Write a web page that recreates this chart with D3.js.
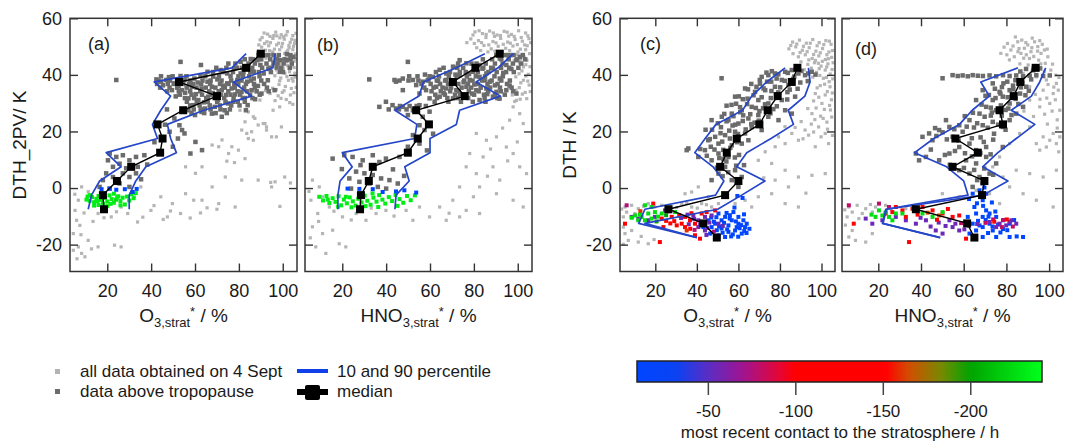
<!DOCTYPE html>
<html><head><meta charset="utf-8">
<script src="https://cdn.jsdelivr.net/npm/d3@7"></script>
<style>
body{margin:0;background:#fff}
svg{display:block}
text{font-family:"Liberation Sans",Arial,sans-serif;fill:#1a1a1a}
</style>
</head><body>
<svg id="chart" width="1076" height="446"></svg>
<script>
// ---------------- DATA ----------------
const binsAB = [47.5,42.5,37.5,32.5,27.5,22.5,17.5,12.5,7.5,2.5,-2.5,-7.5];
const binsCD = [42.5,37.5,32.5,27.5,22.5,17.5,12.5,7.5,2.5,-2.5,-7.5,-12.5,-17.5];

const medA = [90,83.3,52.7,70,54.6,42.9,45.2,44.1,30.9,24.4,18,18.5];
const p10A = [83.3,76.8,41.4,48.9,44.4,40.6,42.9,19.5,26.3,16.5,12.8,11.3];
const p90A = [96.6,95.5,77.5,85.8,64,47.4,48.9,51.5,37.6,33,30,30];

const medB = [91.8,80.7,70.4,75.8,53.7,59.5,54.4,49.9,33.9,32.1,28.5,28.1];
const p10B = [85,72,57,55,44,54,53,20,24.5,19,18,18];
const p90B = [98,91,81,92,73.5,72,60,60,48.5,50.5,44.5,44];

const medC = [88.4,85.7,78.9,74.1,70.1,59.2,54.4,51.2,60,53.6,26.3,43.1,49.6];
const p10C = [82.5,73.6,66.4,62,49.2,44,39,47.8,53,49,15,12,40];
const p90C = [93.7,94.5,92,84,86.5,75.7,64,59.2,72.8,61.6,50,15,40];

const medD = [93.7,86.5,83.4,76.8,78.4,56.1,66.6,54.8,69.7,68.6,37.6,61.6,65];
const p10D = [85.4,68,72,64,58,46,37,52,60,62,23.5,22,49];
const p90D = [98.4,95.6,91.7,82.3,93.3,84.6,76,68.9,80.7,69,24,22,49];

const xTicks = [20,40,60,80,100];
const yTicks = [-20,0,20,40,60];
const cbTicks = [-50,-100,-150,-200];

// all data obtained on 4 Sept (light grey)
const allA = [[91.5,54.8],[94.2,53.6],[96.8,55.1],[99.3,54.2],[102.1,55.3],[104.6,53.9],[89.7,52.4],[92.8,51.7],[95.5,52.9],[98.1,51.2],[100.7,52.6],[103.4,51.5],[105.6,52.2],[90.4,49.8],[93.6,50.3],[96.2,49.1],[99.5,49.9],[102.3,48.7],[104.9,50.1],[88.6,47.9],[94.8,47.2],[97.7,46.4],[100.9,47.6],[103.8,46.1],[105.8,47.4],[95.9,44.8],[98.6,43.9],[101.6,44.6],[104.3,43.2],[93.1,42.7],[97.2,41.8],[100.2,42.4],[103.1,41.1],[105.5,40.6],[96.4,39.7],[99.1,38.9],[101.9,39.4],[104.7,37.8],[98.3,36.6],[101.2,35.9],[103.9,35.2],[95.4,35.3],[99.8,33.8],[105.1,33.7],[92.1,34.4],[87.9,34.1],[91.2,36.8],[89.3,45.3],[92.4,45.9],[100.4,53.5],[97.3,53.8],[94,48.6],[102.9,49.6],[105.2,44.8],[101,40.6],[97.9,40.8],[104.2,38.7],[99.2,31.7],[103.2,30.2],[96.5,30.9],
[90.6,53.2],[93.1,54.4],[95.9,53.9],[98.7,53.1],[101.5,54.1],[104.1,52.6],[106,54.7],[91.7,51.1],[94.4,51.4],[97.2,50.6],[99.9,51.1],[102.8,50.4],[105.4,51.1],[89.1,50.6],[92.1,48.7],[95.4,48.1],[98.6,48.9],[101.7,48.1],[104.6,48.9],[96.4,45.6],[99.5,45.3],[102.5,45.8],[105.7,45.7],[95.1,43.1],[99.6,42.7],[102.2,43.3],[105.2,42.6],[98.6,37.9],[102.6,38.1],[105.6,39.2],[97.1,34.8],[100.6,34.4],[103.5,32.9],[106.1,35.6],[97.9,32.6],[101.6,31.3],[104.6,29.6],[94.2,33.4],
[84.3,26.9],[87.3,24.6],[88.8,22.3],[92.6,21.6],[82.8,23.4],[81.3,20.5],[85.8,19.9],[84.3,17.5],[91.9,22.8],[94.9,18.1],[99.4,21.6],[76.8,14.6],[79.8,13.4],[75.3,12.2],[82.8,10.4],[70.8,14.6],[67.8,15.2],[72.3,17],[55.7,7.5],[63.2,7.5],[60.2,5.2],[73.8,3.9],[67.8,0.4],[81.3,2.8],[88.8,2.8],[94.9,0.4],[100.9,3.9],[55.7,-2],[63.2,-4.3],[70.8,-5.5],[78.3,-6.7],[49.7,-5.5],[80.5,27.5],[86.6,25.2],[91.1,22.8],[95.6,27.5],[98.6,28.7],[89.6,31.1],[92.6,20.5],[97.1,18.1],[83.6,19.3],[86.6,16.9],[74.5,9.5],[78,9],[94.5,2],[96.5,2.2],[65.5,-7],[70,-7.5],[103.5,1.8],[98.7,-6.5],
[53.4,-9],[57.8,-10.6],[45.5,-11.1],[36.2,-10.3],[48.8,-8.1],[41.3,-6.2],[33.8,-12],[59.4,-4.3],[62.5,-8.8],
[6.8,-4.3],[5.3,-7.9],[6,-11.4],[4.5,-16.1],[6.8,-20.8],[8.3,-23.1],[9.8,-24.3],[12.8,-21.5],[15.8,-20.8],[23.3,-20.2],[26.3,-20.8],[11.3,-18.5],[4.5,-22],[8.3,0.4],[11.3,-1.3],[15.8,-9],[21.8,-10.2],[26.3,-6.7],[32.3,-3.1],[35.3,0.4],[29.3,-9],[39.9,-7.9],[44.4,-3.1],[47.4,-10.2],[7.5,-13.2],[5.2,-2.2],[9.4,-8.8],[13.5,-11.8],[18.5,-10.5],[24.2,-8.4],[8,-16.5],[6.2,-25]];

const allB = [[80.5,55.2],[83.9,54.6],[87.2,55.5],[90.6,54.1],[93.8,55.4],[97.1,54.3],[100.4,55.6],[103.6,54.8],[78.6,52.7],[82.1,52.1],[85.5,53.2],[88.7,51.8],[92.2,52.9],[95.4,51.6],[98.8,52.5],[102.1,51.9],[105.1,52.8],[81.3,49.6],[84.6,50.4],[87.9,49.2],[91.1,50.1],[94.5,49.4],[97.8,50.2],[101.2,49.1],[104.3,50.3],[99.6,47.1],[102.9,46.3],[105.4,47.5],[100.8,44.2],[103.7,43.6],[98.4,45.1],[101.9,41.4],[104.8,40.2],[99.1,39.3],[102.6,38.1],[105.2,36.4],[100.7,35.5],[103.4,33.8],[97.5,32.9],[104.1,31.6],[96.2,37.6],[76.8,51.4],[89.4,53.6],[95.9,53.7],
[79.6,54.1],[82.4,55.6],[85.6,54.3],[88.9,54.8],[92.1,53.9],[95.2,55.1],[98.4,53.6],[101.6,53.2],[104.6,53.8],[80.2,51.1],[83.5,51.4],[86.8,50.6],[90.1,51.3],[93.4,50.8],[96.6,51.2],[99.8,50.7],[103.1,50.6],[105.9,51.4],[83.1,48.6],[86.4,48.1],[89.6,48.4],[92.9,47.9],[96.3,48.6],[100.1,48.1],[103.6,48.9],[101.3,45.5],[104.2,45.1],[102.6,42.8],[105.6,42.9],[100.6,40.4],[103.7,39.6],[101.4,37.2],[104.6,37.8],[99.2,34.6],[102.1,33.2],[105.7,34.1],[101.1,31.4],[98.6,30.6],
[81.1,19.3],[85.7,16.9],[90.3,18.1],[94.8,14.5],[97.9,12.2],[84.2,11],[78.1,12.2],[76.5,7.5],[81.1,5.1],[88.7,7.5],[91.8,2.8],[100.9,7.5],[104,5.1],[73.5,0.4],[82.6,0.4],[90.3,-2],[97.9,-4.3],[102.5,-6.7],[70.4,-4.3],[64.4,-6.7],[76.5,-7.9],[82.6,-9],[59.8,-10.2],[67.4,-11.4],[73.5,-10.2],[55.2,-6.7],[49.1,-7.9],[52.2,-11.4],[97.9,28.7],[100.9,26.3],[96.3,24],[102.5,22.8],[99.4,31],[93.1,21.2],[87.6,13.8],[99.8,16.3],[95.4,9.6],[86.2,4.2],[79.8,-3.1],[68.7,-8.9],
[6.4,2.8],[9.5,0.4],[5.7,-4.3],[8.8,-9],[6.4,-13.7],[11,-16.1],[7.9,-20.8],[12.5,-23.1],[18.6,-19.7],[21.6,-20.8],[15.6,-14.9],[20.1,-10.2],[26.3,-9],[30.8,-11.4],[35.4,-9],[39.9,-7.9],[14.1,-6.7],[11,-3.1],[4.8,-1.2],[9.2,-11.8],[5.4,-17.6],[16.2,-8.2],[24.1,-11.3],[43.6,-9.9],[33.2,-7.1]];

const allC = [[86.1,51.6],[89.4,52.3],[92.7,51.2],[95.8,52.5],[98.9,51.4],[102.1,52.1],[104.6,50.8],[84.3,49.2],[87.6,49.9],[90.8,48.7],[94.1,49.6],[97.3,48.4],[100.5,49.3],[103.6,48.1],[88.9,46.4],[92.2,47.1],[95.5,45.8],[98.7,46.7],[101.9,45.4],[104.9,46.2],[93.4,43.7],[96.6,44.3],[99.8,43.1],[103.1,43.9],[98.5,44.1],[101.8,41.7],[104.2,40.3],[97.6,40.9],[100.9,38.8],[103.7,37.6],[97,33.4],[100.2,29.9],[95.4,26.3],[98.6,21.6],[92.1,20.5],[85.7,19.3],[88.9,16.9],[82.5,15.7],[77.7,14.6],[72.9,12.8],[79.3,18.1],[101.8,19.3],[103.4,15.7],[97,14.6],[99.4,36.2],[102.8,34.1],[104.8,31.2],[96.2,30.8],[93.4,28.1],[99.6,25.4],[102.6,23.3],[95.1,22.6],[90.2,23.5],[87.3,21.4],[104.3,27.6],[82.4,21.7],
[85.2,50.4],[88.1,50.9],[91.3,50.1],[94.6,51.2],[97.9,50.3],[101.1,50.7],[103.8,51.9],[86.3,47.5],[89.7,47.9],[93.1,48.2],[96.2,47.2],[99.4,47.8],[102.6,47.1],[105.3,48.6],[90.1,44.6],[93.9,45.3],[97.1,45.1],[100.4,44.8],[103.3,45.7],[105.6,44.3],[91.7,41.8],[95.1,42.4],[98.9,42.2],[102.5,42.8],[105.1,41.9],[95.8,39.2],[99.2,39.8],[102.4,39.1],[105.4,38.6],[97.9,35.4],[101.5,36.7],[104.1,35.8],[98.7,32.1],[101.8,32.9],[105.2,33.6],[97.4,28.3],[101.4,27.8],[103.9,29.2],[96.8,24.2],[100.8,24.6],[104.9,25.1],[93.8,18.7],[96.2,19.8],[99.8,18.1],[102.9,20.8],[105.3,18.6],[91.1,17.4],
[69.6,9.8],[76,8.7],[82.5,6.3],[88.9,3.9],[95.4,4.5],[101.8,5.1],[77.7,2.8],[84.1,0.4],[63.2,-4.3],[66.4,-6.7],[69.6,-3.1],[76,-2],[82.5,-5.5],[88.9,-6.7],[58.4,-5.5],[45.5,-3.1],[40.7,0.4],[37.5,-1.4],[34.3,-2],[92.5,-1.8],[72.2,3.6],
[5.4,-6.7],[8.6,-6.1],[11.8,-7.3],[16.6,-5.5],[19.8,-6.7],[23.1,-6.1],[27.9,-6.7],[32.7,-5.5],[37.5,-6.7],[42.3,-5.5],[47.1,-6.7],[50.4,-5.5],[6.2,-8.5],[10.2,-9],[4.6,-10.2],[14.3,-6.4],[25.4,-7.2],[30.3,-6.9],[35.1,-5.2],[40.2,-7.1],[44.6,-5.9],[3.8,-7.4],
[5.4,-16.1],[7,-18.5],[11.8,-19.1],[16.6,-19.7],[4.6,-13.8],[8.6,-15],[4.6,-19.9],[13.2,-17.1],[19.4,-18.2]];

const allD = [[80.5,51.1],[85.3,51.7],[90,50.6],[94.7,50],[97.8,48.8],[82.1,48.8],[86.8,47.6],[91.5,48.2],[83.7,46.4],[88.4,49.4],[93.2,51.7],[96.2,47.6],[77.4,47.6],[99.4,46.4],[90.8,45.8],[87.2,52.3],[92.1,53],[84.2,53.4],[95.6,52.1],[89.3,47.1],[81.4,45.3],
[78.9,49.8],[83.1,50.2],[85.9,49.3],[89.1,51.4],[91.9,49.6],[94.6,48.4],[96.8,50.8],[99.1,49.1],[80.2,47.1],[85.4,48.2],[88.1,45.9],[92.8,46.5],[95.1,45.2],[98.2,44.1],[101.6,43.8],[86.3,43.9],[90.2,43.5],[94.7,41.8],[97.8,41.2],[103.1,39.9],[99.5,36.6],[104.3,34.6],[95.7,31.4],[98.9,31.8],[102.9,31.2],[101.4,27.2],[97.9,26.1],[103.8,24.1],
[87.8,40.5],[94,39.3],[98.7,38.2],[103.4,37],[90.9,35.8],[97.2,34.6],[101.9,33.4],[84.6,33.4],[90.9,31.1],[95.6,28.7],[100.3,29.9],[105,27.5],[97.2,18.1],[100.3,16.9],[103.4,15.7],[98.7,14.5],[101.9,19.3],[94,15.7],[105,18.1],[95.6,13.4],[90.9,21.6],[86.2,19.3],[81.5,15.7],[76.8,11],[73.6,7.5],[78.4,3.9],[84.6,6.3],[90.9,5.1],[97.2,3.9],[103.4,6.3],[81.5,0.4],[87.8,-2],[94,-4.3],[101.9,-6.7],[72.1,-2],[76.8,-5.5],[65.8,-0.8],[57.9,-3.1],[50,-2],[92.3,42.6],[96.1,43.9],[100.8,41.7],[104.6,39.1],[102.2,35.7],[93.6,33.1],[99.2,22.6],[103.8,21.2],[104.5,12.8],[88.2,27.2],[92.7,25.3],
[6.2,-6.7],[10.1,-6.1],[14.1,-7.3],[18.7,-6.7],[23.4,-6.1],[28.2,-6.7],[32.9,-7.3],[7.8,-8.5],[12.5,-9],[17.2,-8.5],[5.4,-10.2],[10.9,-10.8],[4.3,-7.7],[16.3,-5.8],[26.1,-7.6],[36.4,-6.2],
[6.2,-17.3],[9.3,-18.5],[14.1,-19.1],[7.8,-15],[17.2,-16.1],[4.6,-13.1]];

// data above tropopause (dark grey)
const tropA = [[42.4,38.4],[44.6,37.6],[46.9,38.2],[50.6,37],[55.2,38.2],[59.7,38.7],[65.7,37.6],[70.2,38.4],[74.7,37],[79.3,38.2],[83.8,37.6],[86.8,38.7],
[65.7,41.1],[71.7,41.7],[77.8,42.3],[83.8,42.9],[89.8,43.5],[95.8,44.1],[101.9,45.2],[80.8,44.6],[86.8,41.1],[91.3,40.5],[98.8,41.1],[62.7,43.5],[80.8,40.5],[74.7,40.5],
[95.8,47],[101.9,47.3],[104.9,46.4],[91.3,47],[88.3,45.2],[98.8,45.2],
[54,34.6],[58.5,35.8],[63,35.2],[67.7,35.8],[72.2,34.6],[76.7,35.2],[81.2,34],[85.8,34.6],[90.3,33.4],[96.3,34.6],[57,31.7],[61.5,31.1],[66,32.3],[70.5,31.1],[75,29.9],[79.5,30.5],[84,29.3],[59.2,29.3],[64.5,28.1],[69,28.7],[73.5,27.5],[55.5,33.7],[52.5,36.1],[49.5,34.6],[57,27.5],[67.7,26.3],[72.2,25.2],[60,25.8],[63,26.9],
[48.1,39.2],[53.4,39.6],[57.3,36.9],[61.2,37.3],[68.3,39.4],[72.8,36.2],[77.9,36.8],[81.9,39.6],[88.7,36.1],[93.2,38.1],[60.4,33.2],[64.1,30.3],[68.1,33.6],[74.1,32.9],[78.3,33.1],[82.7,31.8],[87.4,31.4],[62.5,39.9],[85.4,45.6],[93.5,42.1],[97.2,42.6],[45.4,36.3],[51.2,32.4],
[44.5,39.5],[49.8,39.5],[56.1,39.5],[64.7,39.5],[70.9,39.5],[76.2,39.5],[79.8,39.5],[84.7,39.5],[89.4,39.5],
[43.3,38],[48.6,38],[51.8,38],[57.9,38],[63.4,38],[67.1,38],[72.1,38],[76.5,38],[81.2,38],[85.6,38],[90.2,38],
[42.7,36.8],[47.6,36.8],[50.3,36.8],[54.6,36.8],[59.1,36.8],[62.8,36.8],[66.9,36.8],[71.4,36.8],[75.3,36.8],[79.7,36.8],[83.2,36.8],[86.9,36.8],[91.5,36.8],
[44.1,35.5],[48.4,35.5],[51.9,35.5],[56.2,35.5],[60.7,35.5],[64.9,35.5],[69.3,35.5],[73.6,35.5],[78.1,35.5],[82.4,35.5],[87.3,35.5],[92.8,35.5],
[47.3,34.2],[52.6,34.2],[57.8,34.2],[62.4,34.2],[66.5,34.2],[70.8,34.2],[75.2,34.2],[79.4,34.2],[83.7,34.2],[88.1,34.2],[93.6,34.2],
[53.1,33],[58.4,33],[63.2,33],[67.3,33],[71.7,33],[76.2,33],[80.6,33],[85.1,33],[89.5,33],
[55.4,31.8],[59.6,31.8],[65.1,31.8],[68.9,31.8],[73.3,31.8],[77.6,31.8],[81.8,31.8],[86.2,31.8],
[56.3,30.5],[60.8,30.5],[65.8,30.5],[70.1,30.5],[73.9,30.5],[77.4,30.5],[82.7,30.5],
[57.8,29.2],[62.1,29.2],[66.7,29.2],[71.3,29.2],[76.5,29.2],[80.3,29.2],
[59.4,27.8],[62.6,27.8],[67.1,27.8],[71.6,27.8],[75.9,27.8],[58.4,26.5],[64.2,26.5],[69.4,26.5],[74.5,26.5],
[68.2,41],[72.9,41],[77.3,41],[82.1,41],[85.2,41],[89.1,41],[94.6,41],[100.1,41],
[69.7,42.5],[74.3,42.5],[79.1,42.5],[81.4,42.5],[86.1,42.5],[90.6,42.5],[94.2,42.5],[99.3,42.5],[103.2,42.5],
[75.2,44],[78.4,44],[84.4,44],[87.3,44],[92.6,44],[97.6,44],[100.4,44],[104.1,44],
[82.7,45.5],[86.4,45.5],[90.2,45.5],[94.3,45.5],[97.3,45.5],[100.8,45.5],[103.6,45.5],
[88.9,47],[93.4,47],[98.2,47],[103.5,47],
[50.6,24.6],[52.9,22.2],[55.2,19.3],[52.2,17.5],[54.1,20.5],[60.2,16.3],[63.2,13.4],[57.9,12.2],[48.4,19.9],[49.9,14.6],[47.2,27.8],[46.3,22.4],[41.5,16.2],
[21.1,12.2],[24.1,11],[27.1,11.6],[30.1,9.8],[33.1,11],[36.9,11.6],[25.6,8.6],[22.6,7.5],[19.5,5.2],[22.6,3.9],[27.1,5.2],[30.1,3.9],[33.1,5.2],[18,2.8],[25.6,1.6],[30.1,0.4],[21.1,-0.2],[16.5,0.4],[28.6,7],[33.9,7.5],[20.3,9.8],[38.2,8.3],[35.4,3.1],
[24.1,38.2],[53.4,44.6],[83.2,27.5]];

const tropB = [[32.3,38.4],[44.5,37.6],[47.6,38.7],[52.2,38.2],[56.7,37.6],[61.3,39.3],[67.4,38.2],[73.5,39.9],[78.1,38.2],[82.6,39.3],[87.2,37.6],[91.8,38.7],[43.8,38.2],[49.9,44.6],
[64.4,41.8],[70.5,42.9],[76.6,44.1],[82.6,43.5],[88.7,42.3],[94.8,43.5],[99.4,45.2],[67.4,40.5],[79.6,41.1],[85.7,40.5],[91.8,45.8],[96.4,47],[101,46.4],[73.5,45.2],
[58.2,34.6],[62.8,35.8],[67.4,35.2],[72,34.6],[76.6,35.8],[81.1,34.6],[85.7,35.2],[90.3,34],[94.8,34.6],[99.4,33.4],[64.4,32.3],[70.5,31.7],[76.6,32.3],[82.6,31.1],[88.7,32.3],[55.2,33.4],[59.8,31.7],[53.7,36.4],[47.6,34.6],
[69.8,37.1],[75.3,37.4],[80.2,36.6],[84.9,38.1],[89.6,36.3],[93.4,40.7],[97.1,42.1],[71.6,40.1],[77.8,40.3],[83.9,42.2],[63.7,37.9],[59.3,38.3],[66.2,33.6],[73.8,33.1],[79.1,33.4],[86.1,33.2],[91.7,31.6],[96.3,36.2],[57.7,40.1],
[90.2,47],[94.6,47],[98.1,47],[102.3,47],[84.1,45.5],[88.3,45.5],[92.5,45.5],[95.9,45.5],[99.7,45.5],[103.4,45.5],
[72.8,44],[78.9,44],[81.2,44],[85.4,44],[89.6,44],[93.1,44],[97.8,44],[101.6,44],
[66.2,42.5],[72.4,42.5],[75.1,42.5],[80.4,42.5],[84.3,42.5],[87.9,42.5],[92.4,42.5],[96.1,42.5],[100.3,42.5],
[62.7,41],[69.1,41],[73.6,41],[76.3,41],[81.8,41],[86.6,41],[90.4,41],[94.7,41],[98.2,41],
[50.5,39.5],[54.3,39.5],[59.8,39.5],[64.1,39.5],[68.6,39.5],[72.2,39.5],[76.8,39.5],[80.9,39.5],[85.1,39.5],[89.4,39.5],[93.2,39.5],
[46.1,38],[50.2,38],[54.7,38],[58.9,38],[63.1,38],[66.9,38],[71.3,38],[75.6,38],[79.4,38],[83.8,38],[88.1,38],[92.5,38],[96.4,38],
[56.1,36.8],[60.3,36.8],[64.6,36.8],[68.2,36.8],[72.9,36.8],[77.3,36.8],[81.7,36.8],[86.2,36.8],[90.8,36.8],[95.1,36.8],
[57.4,35.5],[61.6,35.5],[65.7,35.5],[69.6,35.5],[74.4,35.5],[78.8,35.5],[83.1,35.5],[87.4,35.5],[91.9,35.5],[97.2,35.5],
[60.7,34.2],[64.9,34.2],[69.2,34.2],[73.1,34.2],[77.7,34.2],[82.2,34.2],[86.5,34.2],[92.3,34.2],[97.9,34.2],
[62.4,33],[66.8,33],[71.4,33],[75.8,33],[80.1,33],[84.6,33],[89.6,33],[94.1,33],
[63.2,31.8],[67.9,31.8],[72.6,31.8],[77.4,31.8],[84.9,31.8],[90.7,31.8],[62.1,30.5],[68.4,30.5],[74.1,30.5],[79.5,30.5],[85.3,30.5],
[46.3,29],[50.7,29],[53.9,29],[58.1,29],[41.2,27.8],[45.8,27.8],[49.3,27.8],[54.3,27.8],
[39.9,30.5],[42.9,29.3],[44.5,28.1],[47.6,28.7],[52.2,27.5],[55.2,29.3],[36.9,28.7],[49.9,25.8],[56.7,25.2],[59.8,27],
[55.2,22.2],[57.5,20.5],[52.2,18.7],[55.2,15.7],[49.9,14.6],[46.1,11],[61.4,19.2],[58.6,13.3],
[15.6,10.4],[20.9,11.6],[24.7,11],[29.3,9.8],[33.9,11.6],[36.9,9.2],[39.9,10.4],[26.3,5.8],[30.1,5.2],[33.9,4.6],[37.7,3.4],[41.5,2.8],[45.3,1.6],[23.2,3.4],[27.8,2.2],[32.4,1.6],[36.2,0.4],[40,-0.2],[24,-0.2],[28.3,8.1],[43.1,6.6],[48.2,4.3],[19.8,6.7]];

const tropC = [[51.9,38.8],[71.2,39.3],[74.4,39.9],[77.6,40.5],[82.5,41.1],[85.7,41.7],[88.9,40.5],[92.1,39.9],[95.3,41.1],[80.9,38.2],[84.1,36.4],[77.6,35.8],[72.9,34.6],[68,34],[63.2,35.2],[58.4,32.3],[69.6,31.1],[74.4,29.9],[80.9,31.1],[87.3,32.3],[66.4,28.7],[61.6,27.5],[56.8,26.3],[52,25.2],[47.1,24],[55.2,24],[60,22.8],[64.8,24.6],[69.6,25.8],[74.4,25.2],[79.3,24],[82.5,27.5],[85.7,26.3],[66.4,21.6],[71.2,20.5],[63.2,19.3],[58.4,19.9],[53.6,18.7],[48.8,18.1],[45.5,16.9],[50.4,15.7],[56.8,15.1],[61.6,15.7],[64.8,16.9],[43.9,13.4],[50.4,12.2],[55.2,11],[35.9,14],[40.7,11],[47.1,9.8],[53.6,7.5],[58.4,6.3],[56.8,2.8],[61.6,3.9],[60,0.4],[50.4,5.1],[47.1,2.8],
[75.8,37.6],[79.2,33.8],[83.6,33.9],[66.2,36.8],[70.4,36.9],[62.1,31.4],[76.8,27.9],[71.9,28.2],[58.9,29.8],[54.3,29.1],[67.8,23.1],[62.3,25.7],[57.2,22.1],[51.6,21.5],[48.5,13.6],[44.2,20.6],[60.3,11.7],[52.8,10.2],[62.7,8.1],[35.1,13.4],
[73.5,40.8],[76.1,41.3],[79.2,40.2],[83.8,40.7],[86.9,39.4],[90.3,41.4],[93.6,40.5],[97.1,40.1],[70.3,38.2],[73.8,37.6],[78.4,38.7],[82.3,37.9],[86.4,38.6],[89.8,37.3],[93.4,37.8],[64.6,34.9],[68.7,35.8],[72.1,35.2],[75.9,34.3],[80.1,35.6],[84.7,34.8],[88.5,35.1],[60.2,32.4],[64.4,31.6],[67.3,32.8],[71.2,32.1],[75.6,31.8],[79.1,32.6],[83.5,31.3],[56.7,29.4],[60.8,28.6],[64.2,29.7],[68.4,28.3],[72.8,29.6],[78.5,28.9],[53.2,26.2],[57.6,25.4],[60.9,26.8],[65.7,26.1],[70.1,27.2],[75.4,26.4],[50.1,22.9],[54.3,23.6],[58.5,22.4],[62.1,23.7],[66.2,22.6],[69.8,23.8],[47.3,20.6],[51.4,19.4],[55.6,20.3],[59.8,19.1],[63.5,20.7],[46.2,17.3],[52.2,16.4],[55.9,17.5],[59.4,16.2],[41.6,13.8],[46.7,14.6],[52.7,13.5],[56.1,14.2],[44.8,11.4],[50.8,10.6],[54.2,9.4],[58.3,10.8],[49.7,7.2],[55.1,5.6],[58.9,7.9],[52.4,4.2]];

const tropD = [[54.8,39.9],[57.2,39.6],[59.5,39.8],[61.9,39.5],[64.2,39.9],[66.6,39.7],[69,39.6],[72.1,39.8],[75.2,39.5],[78.4,39.9],[81.5,39.6],[84.6,39.8],[87.8,39.5],[90.9,39.7],[94,39.9],[97.2,39.6],[100.3,39.8],[50.1,38.8],
[78.6,37],[89.3,35.8],[81.5,34.6],[78.3,32.3],[73.6,31.1],[70.5,28.7],[75.2,27.5],[81.5,29.9],[84.6,26.3],[87.8,28.7],[67.4,26.3],[62.7,24],[57.9,22.2],[53.3,21.6],[48.5,20.5],[43.8,19.3],[40.7,18.1],[50.1,19.7],[54.8,18.1],[59.5,19.9],[68.9,22.2],[73.6,23.4],[78.3,21.6],[81.5,24],[62.7,15.7],[65.8,13.4],[70.5,14.5],[57.9,14.5],[53.3,12.2],[48.5,9.8],[42.3,11],[37.6,12.2],[39.1,9.8],[61.1,9.8],[65.8,8.7],[70.5,11],[57.9,6.3],[62.7,5.1],[67.4,3.9],[72.1,5.1],[68.9,1.6],[64.2,0.4],[75.2,8.7],[78.3,14.5],[45.4,16.9],[51.7,24],[65.8,31.1],[68.9,34.6],[73.6,37],[76.8,34],
[83.1,36.2],[86.4,33.4],[79.6,27.6],[72.7,25.6],[64.8,21.4],[56.1,17.1],[60.6,12.3],[67.9,17.9],[74.2,19.2],[71.8,32.9],
[86.5,41.2],[89.2,42.1],[92.5,41.6],[95.8,42.3],[80.4,37.6],[84.2,38.1],[87.5,37.2],[91.6,38.4],[74.6,35.1],[77.9,35.7],[83.2,34.9],[86.8,35.6],[90.5,34.4],[70.2,32.6],[74.9,31.8],[77.2,33.4],[80.6,32.1],[84.3,31.5],[88.9,32.8],[68.4,29.5],[72.7,28.4],[77.4,29.2],[80.9,28.1],[85.6,29.7],[60.5,25.4],[64.3,26.6],[69.8,25.2],[73.2,26.7],[77.8,25.6],[82.4,25.8],[46.6,21.2],[55.6,20.8],[61.4,21.7],[66.3,22.9],[71.2,21.3],[76.1,22.4],[79.6,20.6],[47.2,18.4],[52.1,17.2],[57.6,16.8],[63.8,17.6],[69.4,16.3],[73.8,17.1],[44.6,13.6],[51.2,11.7],[55.9,13.1],[63.9,11.2],[67.8,12.4],[72.6,11.9],[53.5,8.2],[60.1,7.1],[64.9,6.4],[69.6,6.9],[73.8,4.7],[66.3,2.8]];

// coloured: [x, y, hours since most recent stratospheric contact]
const colA = [[11,-3,-232],[12,-4.5,-232],[13,-3.2,-225],[14,-5,-232],[15,-3.8,-232],[16,-2.8,-228],[17,-4.2,-232],[18,-5.5,-232],[19,-3.5,-232],[20,-4.8,-230],[21,-2.6,-232],[22,-3.9,-232],[23,-5.2,-232],[24,-4.1,-225],[25,-2.9,-232],[26,-4.6,-232],[27,-3.4,-232],[28,-5.8,-232],[29,-3,-232],[30,-4.4,-232],[31,-2.2,-232],[32,-3.6,-232],[33,-1.8,-232],[14,-6.2,-232],[16,-6,-232],[20,-6.4,-232],[12,-2.5,-232],[18,-2.4,-232],[23,-2,-232],[26,-6.1,-232],[10.5,-4.1,-232],[15.5,-4.6,-232],[21.5,-5.6,-232],[24.5,-3.3,-232],
[17.4,-0.4,-12],[21,-0.2,-12],[24.1,-0.6,-12],[28,-0.4,-12],[31.6,-1.4,-12],[33.4,-0.3,-12]];

const colB = [[9.5,-3.1,-232],[11.2,-4.4,-232],[12.8,-2.8,-232],[14.1,-5.3,-232],[15.6,-3.6,-232],[16.9,-4.9,-232],[18.3,-2.9,-228],[19.5,-6.1,-232],[20.7,-4.1,-232],[22.1,-5.4,-232],[23.4,-3.3,-232],[24.8,-4.7,-232],[26.1,-6.2,-232],[27.3,-3.8,-232],[28.8,-5.1,-232],[30.2,-2.7,-232],[31.4,-4.5,-232],[32.9,-5.9,-232],[34.2,-3.4,-232],[35.6,-4.8,-232],[36.8,-2.5,-232],[38.3,-4.1,-232],[39.6,-5.5,-232],[41.2,-3.2,-232],[42.7,-4.6,-232],[44.3,-2.4,-232],[46.1,-3.9,-232],[47.8,-5.2,-232],[49.5,-2.8,-232],[51.2,-4.3,-232],[53.1,-2.6,-232],[18.1,-6.6,-232],[24.2,-6.8,-232],[30.6,-6.4,-232],[36.4,-6.7,-232],[13.4,-4.1,-232],[21.6,-3.1,-232],[33.8,-1.9,-232],[45.2,-6.3,-232],
[22.4,-0.2,-12],[27.8,-0.3,-12],[33.9,-0.4,-12],[38.4,-1.4,-12],[44.5,-1.2,-12],[48.3,-0.8,-12],[53.7,-1.6,-12]];

const colC = [[50.4,-9,-12],[53.6,-10.2,-12],[56.8,-11.4,-12],[60,-12.6,-12],[63.2,-13.8,-12],[48.8,-12.6,-12],[51.9,-14.3,-12],[55.2,-15.5,-12],[58.4,-15,-12],[61.6,-16.1,-12],[53.6,-17.3,-12],[50.4,-16.7,-12],[45.5,-11.4,-12],[47.1,-13.8,-12],[64,-12.6,-12],[57.6,-8.5,-12],[60,-10.2,-12],[46.4,-16.1,-12],[51.9,-11.4,-12],[55.2,-13.2,-12],[59.2,-13.8,-12],[62.4,-11.4,-12],[43.1,-13.8,-12],[56.5,-17.1,-12],[62.8,-15.2,-12],[65.3,-14.4,-12],[49.4,-10.3,-12],[54.3,-8.8,-12],[58.1,-6.9,-12],[59.5,-2.8,-12],[62,-3.5,-12],
[48.2,-11.9,-12],[50.7,-13.6,-12],[53.1,-12.3,-12],[55.8,-10.8,-12],[58.8,-11.8,-12],[61.3,-13.1,-12],[63.9,-15.9,-12],[52.4,-15.8,-12],[57.3,-16.4,-12],[59.9,-17.2,-12],[49.6,-14.9,-12],[54.6,-14.6,-12],[60.6,-14.2,-12],[46.9,-10.4,-12],[55.9,-9.6,-12],[62.7,-9.3,-12],
[40.7,-11.4,-55],[43.9,-10.2,-55],[47.1,-9.7,-55],[50.4,-12.6,-55],[40.7,-13.8,-55],[43.9,-15,-55],[38.3,-9.7,-55],[19.8,-10.2,-55],[16.6,-11.4,-55],[11.8,-10.8,-55],[8.6,-10.2,-55],[24.7,-7.9,-55],[52.5,-13.4,-55],[46,-12.2,-55],[44.6,-16.6,-55],[36.1,-12.8,-55],[38.7,-10.9,-55],[41.6,-12.9,-55],[45.1,-14.1,-55],[32.4,-10.6,-55],[35.5,-9.4,-55],
[6.2,-6.1,-75],[42.2,-12.1,-75],[48.1,-15.4,-75],[38.9,-14.8,-75],[26.5,-8.2,-75],
[34.3,-10.2,-125],[36.7,-11.4,-125],[39.1,-12.6,-125],[32.7,-12.6,-125],[42.3,-9,-125],[44.7,-8.5,-125],[39.1,-16.7,-125],[41.5,-17.9,-125],[22.2,-19.1,-125],[30.3,-13.2,-125],[5.4,-12.6,-125],[19,-5.5,-125],[27.9,-10.2,-125],[23.1,-10.8,-125],[48.8,-7.9,-125],[34.3,-13.8,-125],[23.9,-13.8,-125],[37.4,-8.9,-125],[29.1,-11.7,-125],[31.5,-9.6,-125],[27.2,-12.5,-125],[36.8,-14.4,-125],[25.2,-11.6,-125],
[35.1,-15,-160],[12.8,-8.2,-160],
[10.2,-9.7,-225],[13.4,-10.2,-225],[16.6,-9,-225],[19.8,-8.5,-225],[15,-11.4,-225],[11.8,-11.4,-225],[18.2,-10.8,-225],[26.3,-7.9,-225],[29.5,-8.5,-225],[23.1,-9,-225],[18.2,-6.7,-225],[15,-6.1,-225],[21.3,-10.1,-225],[8.7,-10.5,-225],[12.6,-9.4,-225],
[20.6,-11.8,-200],[25.2,-9.6,-200]];

const colD = [[64.2,-2,-12],[67.4,-0.8,-12],[70.5,-2,-12],[68.9,-4.3,-12],[65.8,-9,-12],[68.9,-10.2,-12],[72.1,-9,-12],[75.2,-10.2,-12],[78.4,-11.4,-12],[81.5,-12.6,-12],[72.1,-12.6,-12],[68.9,-13.8,-12],[65.8,-15,-12],[62.7,-16.1,-12],[68.9,-17.3,-12],[75.2,-17.3,-12],[81.5,-17.3,-12],[87.8,-17.3,-12],[73.6,-15,-12],[78.4,-14.5,-12],[70.5,-7.9,-12],[65,-6.7,-12],[61.9,-10.2,-12],[64.2,-12.6,-12],[71.4,-15.9,-12],[76.1,-12.9,-12],[66.7,-11.6,-12],[62.5,-3.9,-12],[69.7,0.2,-12],[73.2,-5.1,-12],
[70.3,-11.3,-12],[73.5,-13.6,-12],[77.2,-15.7,-12],[80.4,-14.9,-12],[83.6,-11.3,-12],[67.4,-13.2,-12],[71.6,-10.1,-12],[74.8,-8.3,-12],[66.2,-5.4,-12],[69.1,-6.3,-12],[84.8,-17.1,-12],
[72.1,-12,-55],[76.8,-12.6,-55],[81.5,-12,-55],[84.6,-12.6,-55],[54.8,-13.8,-55],[57.9,-15,-55],[50.1,-16.1,-55],[46.9,-15,-55],[53.3,-11.4,-55],[42.3,-11.4,-55],[37.6,-12.6,-55],[32.9,-11.4,-55],[28.2,-10.2,-55],[21.9,-11.4,-55],[17.2,-12.6,-55],[14.1,-10.8,-55],[75.2,-13.8,-55],[79.9,-13.2,-55],[60.3,-14.6,-55],[44.5,-13.6,-55],[39.8,-10.5,-55],[62.5,-13.3,-55],[56.1,-12.6,-55],[51.5,-13.4,-55],[48.3,-12.2,-55],[66.3,-12.7,-55],[82.3,-11.4,-55],
[6.2,-6.1,-80],[20.3,-5.5,-80],[25,-6.7,-80],[78.6,-11.3,-80],[83,-13.6,-80],[70.2,-12.3,-80],[58.8,-12.4,-80],[73.8,-11.1,-80],[77.9,-13.8,-80],
[40.7,-6.7,-125],[45.4,-7.9,-125],[50.1,-9,-125],[54.8,-10.2,-125],[57.9,-9.7,-125],[36,-7.3,-125],[31.3,-7.9,-125],[28.2,-6.7,-125],[32.9,-10.2,-125],[61.1,-17.9,-125],[34.4,-19.1,-125],[8.5,-12.6,-125],[23.4,-9,-125],[26.6,-8.5,-125],[47.5,-11.2,-125],[52.6,-7.4,-125],[38.4,-9.4,-125],[74.3,-11.9,-125],[80.2,-11.1,-125],
[48.5,-9.7,-165],[43.1,-8.7,-165],
[18.7,-10.2,-225],[21.9,-9.7,-225],[25,-10.2,-225],[28.2,-9,-225],[31.3,-9,-225],[20.3,-7.9,-225],[26.6,-11.4,-225],[40.7,-9,-225],[45.4,-10.2,-225],[50.1,-8.5,-225],[23.5,-8.6,-225],[16.8,-9.4,-225]];

// ---------------- DRAW ----------------
const svg = d3.select("#chart");
const hStops = [-10,-32,-50,-70,-90,-100,-152,-165,-183,-200,-240];
const hCols = ["#0046ff","#0a42f2","#5a2ec4","#a01490","#e2063a","#ff0000","#ff0000","#d24e00","#7a8800","#00a400","#00ff1a"];
const color = d3.scaleLinear().domain(hStops).range(hCols).clamp(true);
const fmt = d => String(d);

const y = d3.scaleLinear().domain([-29.5,60]).range([271.5,18.3]);

const panels = [
  {left:70,right:297,all:allA,trop:tropA,col:colA,bins:binsAB,med:medA,p10:p10A,p90:p90A,label:"(a)",lx:88,ly:50,xt:"O",yTitle:"DTH_2PV/ K",yl:true},
  {left:305,right:532,all:allB,trop:tropB,col:colB,bins:binsAB,med:medB,p10:p10B,p90:p90B,label:"(b)",lx:317,ly:51,xt:"HNO",yl:false},
  {left:620,right:835,all:allC,trop:tropC,col:colC,bins:binsCD,med:medC,p10:p10C,p90:p90C,label:"(c)",lx:640,ly:50,xt:"O",yTitle:"DTH / K",yl:true},
  {left:842,right:1063,all:allD,trop:tropD,col:colD,bins:binsCD,med:medD,p10:p10D,p90:p90D,label:"(d)",lx:855,ly:55,xt:"HNO",yl:false}
];

const defs = svg.append("defs");
const yB = y.range()[0], yT = y.range()[1];

panels.forEach((p,pi)=>{
  const x = d3.scaleLinear().domain([3,106.5]).range([p.left,p.right]);
  const g = svg.append("g");
  const cid = "clip"+pi;
  defs.append("clipPath").attr("id",cid).append("rect")
    .attr("x",p.left).attr("y",yT).attr("width",p.right-p.left).attr("height",yB-yT);
  const pg = g.append("g").attr("clip-path","url(#"+cid+")");

  pg.selectAll("rect.all").data(p.all).join("rect").attr("class","all")
    .attr("x",d=>x(d[0])-1.6).attr("y",d=>y(d[1])-1.6).attr("width",3.2).attr("height",3.2).attr("fill","#b5b5b5");
  pg.selectAll("rect.trop").data(p.trop).join("rect").attr("class","trop")
    .attr("x",d=>x(d[0])-2.25).attr("y",d=>y(d[1])-2.25).attr("width",4.5).attr("height",4.5).attr("fill","#6b6b6b");
  pg.selectAll("rect.col").data(p.col).join("rect").attr("class","col")
    .attr("x",d=>x(d[0])-2).attr("y",d=>y(d[1])-2).attr("width",4).attr("height",4).attr("fill",d=>color(d[2]));

  const line = d3.line().x(d=>x(d)).y((d,i)=>y(p.bins[i]));
  [p.p10,p.p90].forEach(arr=>{
    pg.append("path").attr("d",line(arr)).attr("fill","none").attr("stroke","#2546c8").attr("stroke-width",1.7).attr("stroke-linejoin","round");
  });
  pg.append("path").attr("d",line(p.med)).attr("fill","none").attr("stroke","#000").attr("stroke-width",1.4);
  pg.selectAll("rect.med").data(p.med).join("rect").attr("class","med")
    .attr("x",d=>x(d)-4).attr("y",(d,i)=>y(p.bins[i])-4).attr("width",8).attr("height",8).attr("fill","#000");

  // axes (ticks inward on all four sides)
  const tc = "#333";
  const bot = g.append("g").attr("transform","translate(0,"+yB+")")
    .call(d3.axisBottom(x).tickValues(xTicks).tickSize(-8).tickPadding(13).tickFormat(fmt));
  const top = g.append("g").attr("transform","translate(0,"+yT+")")
    .call(d3.axisTop(x).tickValues(xTicks).tickSize(-8).tickFormat(""));
  const lef = g.append("g").attr("transform","translate("+p.left+",0)")
    .call(d3.axisLeft(y).tickValues(yTicks).tickSize(-8).tickPadding(8).tickFormat(p.yl?fmt:""));
  const rig = g.append("g").attr("transform","translate("+p.right+",0)")
    .call(d3.axisRight(y).tickValues(yTicks).tickSize(-8).tickFormat(""));
  [bot,top,lef,rig].forEach(a=>{
    a.select(".domain").remove();
    a.selectAll("line").attr("stroke",tc).attr("stroke-width",1.4);
    a.selectAll("text").attr("font-size",18).attr("fill","#1a1a1a").attr("font-family","Liberation Sans, Arial, sans-serif");
  });

  g.append("rect").attr("x",p.left).attr("y",yT).attr("width",p.right-p.left).attr("height",yB-yT)
    .attr("fill","none").attr("stroke","#333").attr("stroke-width",1.5);

  g.append("text").attr("x",p.lx).attr("y",p.ly).attr("font-size",18).text(p.label);

  // x title with subscript / superscript
  const t = g.append("text").attr("x",(p.left+p.right)/2).attr("y",322).attr("text-anchor","middle").attr("font-size",19);
  t.append("tspan").text(p.xt);
  t.append("tspan").attr("font-size",13).attr("dy",5).text("3,strat");
  t.append("tspan").attr("font-size",13).attr("dy",-11).text("*");
  t.append("tspan").attr("font-size",19).attr("dy",6).text(" / %");

  if(p.yTitle){
    const cx = p.left - 44, cy = 145;
    g.append("text").attr("transform","translate("+cx+","+cy+") rotate(-90)")
      .attr("text-anchor","middle").attr("font-size",19).text(p.yTitle);
  }
});

// legend
const lg = svg.append("g");
lg.append("rect").attr("x",55).attr("y",369).attr("width",5).attr("height",5).attr("fill","#b3b3b3");
lg.append("rect").attr("x",55).attr("y",389).attr("width",5).attr("height",5).attr("fill","#6b6b6b");
lg.append("text").attr("x",80).attr("y",377).attr("font-size",17).text("all data obtained on 4 Sept");
lg.append("text").attr("x",80).attr("y",397).attr("font-size",17).text("data above tropopause");
lg.append("line").attr("x1",297).attr("x2",328).attr("y1",371).attr("y2",371).attr("stroke","#1040e8").attr("stroke-width",4);
lg.append("text").attr("x",337).attr("y",377).attr("font-size",17).text("10 and 90 percentile");
lg.append("line").attr("x1",297).attr("x2",328).attr("y1",392).attr("y2",392).attr("stroke","#000").attr("stroke-width",6);
lg.append("rect").attr("x",305).attr("y",385).attr("width",15).attr("height",15).attr("rx",2).attr("fill","#000");
lg.append("text").attr("x",337).attr("y",397).attr("font-size",17).text("median");

// colour bar
const cb = d3.scaleLinear().domain([-9.5,-241]).range([637,1042]);
const grad = defs.append("linearGradient").attr("id","cbgrad").attr("x1","0%").attr("x2","100%").attr("y1","0%").attr("y2","0%");
d3.range(0,61).forEach(i=>{
  const v = -9.5 + (-241+9.5)*i/60;
  grad.append("stop").attr("offset",(i/60*100)+"%").attr("stop-color",color(v));
});
svg.append("rect").attr("x",637).attr("y",361).attr("width",405).attr("height",21)
  .attr("fill","url(#cbgrad)").attr("stroke","#222").attr("stroke-width",1.5);
const cbAxis = svg.append("g").attr("transform","translate(0,382)")
  .call(d3.axisBottom(cb).tickValues(cbTicks).tickSize(13).tickPadding(10).tickFormat(fmt));
cbAxis.select(".domain").remove();
cbAxis.selectAll("line").attr("stroke","#444").attr("stroke-width",1.5);
cbAxis.selectAll("text").attr("font-size",17).attr("fill","#1a1a1a").attr("font-family","Liberation Sans, Arial, sans-serif");
svg.append("text").attr("x",840).attr("y",438).attr("text-anchor","middle").attr("font-size",17)
  .text("most recent contact to the stratosphere / h");
</script>
</body></html>
